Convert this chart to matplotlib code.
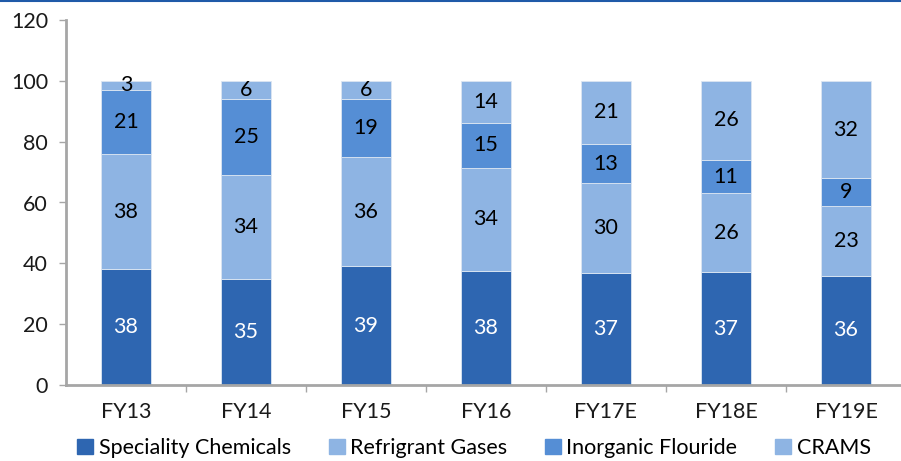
import matplotlib.pyplot as plt
from matplotlib.lines import Line2D
import numpy as np

plt.rcParams['font.family'] = ['Lato', 'DejaVu Sans']

years = ["FY13", "FY14", "FY15", "FY16", "FY17E", "FY18E", "FY19E"]
speciality = [38, 35, 39, 37.6, 36.7, 37, 36]
refrigerant = [38, 34, 36, 33.9, 29.6, 26, 23]
inorganic = [21, 25, 19, 14.6, 12.9, 11, 9]
crams = [3, 6, 6, 13.9, 20.8, 26, 32]

series = [
    ("Speciality Chemicals", speciality, "#2E66B1", "white"),
    ("Refrigrant Gases", refrigerant, "#8EB4E3", "black"),
    ("Inorganic Flouride", inorganic, "#558ED5", "black"),
    ("CRAMS", crams, "#8EB4E3", "black"),
]

fig = plt.figure(figsize=(9.01, 4.61), dpi=100)
ax = fig.add_axes([66 / 901, 1 - 385 / 461, 840 / 901, 365 / 461])

x = np.arange(len(years))
bottom = np.zeros(len(years))
handles = []
for name, vals, color, tcolor in series:
    vals = np.array(vals, dtype=float)
    ax.bar(x, vals, width=0.41, bottom=bottom, color=color,
           edgecolor="#DCE6F2", linewidth=0.6, zorder=2)
    for xi, b, v in zip(x, bottom, vals):
        ax.text(xi, b + v / 2, f"{v:.0f}", ha="center", va="center",
                fontsize=15.5, color=tcolor, zorder=3)
    bottom += vals
    handles.append(plt.Rectangle((0, 0), 1, 1, color=color, label=name))

ax.set_xlim(-0.5, len(years) - 0.5)
ax.set_ylim(0, 120)
ax.set_yticks(range(0, 121, 20))
ax.set_xticks(x)
ax.set_xticklabels(years)
ax.set_xticks(np.arange(len(years)) + 0.5, minor=True)

for s in ["top", "right"]:
    ax.spines[s].set_visible(False)
for s in ["left", "bottom"]:
    ax.spines[s].set_color("#A6A6A6")
    ax.spines[s].set_linewidth(2)

ax.tick_params(axis="y", length=5, width=1, color="#A6A6A6",
               labelsize=15.5, pad=8, labelcolor="#1A1A1A")
ax.tick_params(axis="x", which="major", length=0, labelsize=15.5,
               pad=12, labelcolor="#1A1A1A")
ax.tick_params(axis="x", which="minor", length=5, width=1, color="#A6A6A6")

fig.legend(handles=handles, loc="center", bbox_to_anchor=(0.526, 1 - 448 / 461),
           ncol=4, frameon=False, fontsize=15.5, handlelength=0.75,
           handleheight=0.75, handletextpad=0.25, columnspacing=1.75,
           borderaxespad=0)

# thin rule along the top edge
fig.add_artist(Line2D([0, 1], [0.998, 0.998], color="#1F5AA8",
                      linewidth=1.5, transform=fig.transFigure))

fig.savefig("out.png", dpi=100)
